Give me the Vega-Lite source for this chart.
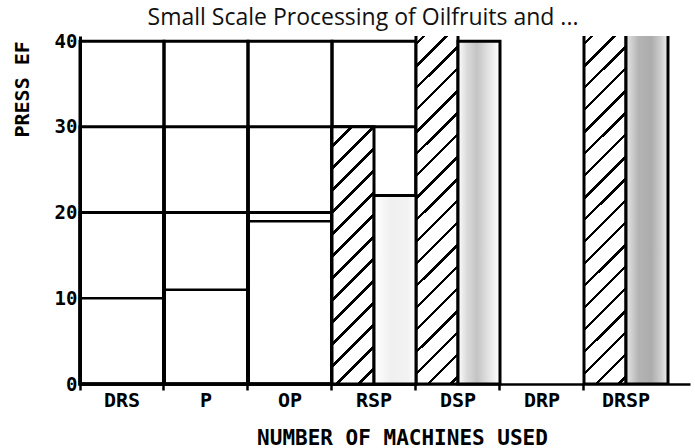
{
  "$schema": "https://vega.github.io/schema/vega-lite/v6.json",
  "width": 610,
  "height": 348,
  "autosize": {"type": "none"},
  "padding": {"left": 80, "top": 36, "right": 5, "bottom": 64},
  "background": "white",
  "title": {
    "text": "Small Scale Processing of Oilfruits and ...",
    "font": "Open Sans",
    "fontSize": 23,
    "fontWeight": "normal",
    "color": "#111111",
    "anchor": "middle",
    "frame": "group",
    "dx": -22,
    "offset": 2
  },
  "config": {"view": {"stroke": null}},
  "datasets": {
    "grid": [
      {"machine": "DRS", "value": 40}, {"machine": "DRS", "value": 30}, {"machine": "DRS", "value": 20},
      {"machine": "P", "value": 40}, {"machine": "P", "value": 30}, {"machine": "P", "value": 20},
      {"machine": "OP", "value": 40}, {"machine": "OP", "value": 30}, {"machine": "OP", "value": 20},
      {"machine": "RSP", "value": 40}, {"machine": "RSP", "value": 30}
    ],
    "press": [
      {"machine": "DRS", "type": "single", "value": 10},
      {"machine": "P", "type": "single", "value": 11},
      {"machine": "OP", "type": "single", "value": 19},
      {"machine": "RSP", "type": "hatched", "value": 30},
      {"machine": "RSP", "type": "stippled", "value": 22},
      {"machine": "DSP", "type": "hatched", "value": 42},
      {"machine": "DSP", "type": "stippled", "value": 40},
      {"machine": "DRSP", "type": "hatched", "value": 42},
      {"machine": "DRSP", "type": "stippled", "value": 42}
    ]
  },
  "encoding": {
    "x": {
      "field": "machine",
      "type": "nominal",
      "scale": {
        "domain": ["DRS", "P", "OP", "RSP", "DSP", "DRP", "DRSP"],
        "paddingInner": 0,
        "paddingOuter": 0.131,
        "align": 0
      },
      "axis": {
        "title": "NUMBER OF MACHINES USED",
        "bandPosition": 0,
        "labelAngle": 0,
        "labelFont": "DejaVu Sans Mono",
        "labelFontSize": 20,
        "labelFontWeight": "bold",
        "labelColor": "black",
        "labelPadding": 0,
        "tickSize": 6,
        "tickWidth": 2.5,
        "tickColor": "black",
        "domainColor": "black",
        "domainWidth": 2.5,
        "grid": false,
        "titleFont": "DejaVu Sans Mono",
        "titleFontSize": 21,
        "titleFontWeight": "bold",
        "titleColor": "black",
        "titleX": 322,
        "titleY": 60,
        "titleAlign": "center",
        "titleBaseline": "alphabetic"
      }
    },
    "y": {
      "field": "value",
      "type": "quantitative",
      "stack": null,
      "scale": {"domain": [0, 40.6], "nice": false, "zero": true},
      "axis": {
        "title": "PRESS EF",
        "values": [0, 10, 20, 30, 40],
        "grid": false,
        "ticks": false,
        "domainColor": "black",
        "domainWidth": 3,
        "labelFont": "DejaVu Sans Mono",
        "labelFontSize": 19,
        "labelFontWeight": "bold",
        "labelColor": "black",
        "labelPadding": 3,
        "titleFont": "DejaVu Sans Mono",
        "titleFontSize": 20,
        "titleFontWeight": "bold",
        "titleColor": "black",
        "titleX": -58,
        "titleY": 101,
        "titleAngle": 270,
        "titleAlign": "left",
        "titleBaseline": "middle"
      }
    }
  },
  "layer": [
    {
      "data": {"name": "grid"},
      "mark": {"type": "bar", "fill": "transparent", "stroke": "black", "strokeWidth": 3}
    },
    {
      "data": {"name": "press"},
      "transform": [{"filter": "datum.type === 'single'"}],
      "mark": {"type": "bar", "fill": "transparent", "stroke": "black", "strokeWidth": 2.5}
    },
    {
      "data": {"name": "press"},
      "transform": [{"filter": "datum.type === 'hatched' && datum.machine === 'RSP'"}],
      "mark": {
        "type": "bar",
        "stroke": "black",
        "strokeWidth": 3,
        "fill": {
          "gradient": "linear", "x1": 0, "y1": 0, "x2": 0.1906, "y2": 1.1668,
          "stops": [
            {"offset": 0, "color": "white"}, {"offset": 0.0586, "color": "white"}, {"offset": 0.0586, "color": "black"}, {"offset": 0.0714, "color": "black"},
            {"offset": 0.0714, "color": "white"}, {"offset": 0.13, "color": "white"}, {"offset": 0.13, "color": "black"}, {"offset": 0.1429, "color": "black"},
            {"offset": 0.1429, "color": "white"}, {"offset": 0.2014, "color": "white"}, {"offset": 0.2014, "color": "black"}, {"offset": 0.2143, "color": "black"},
            {"offset": 0.2143, "color": "white"}, {"offset": 0.2729, "color": "white"}, {"offset": 0.2729, "color": "black"}, {"offset": 0.2857, "color": "black"},
            {"offset": 0.2857, "color": "white"}, {"offset": 0.3443, "color": "white"}, {"offset": 0.3443, "color": "black"}, {"offset": 0.3571, "color": "black"},
            {"offset": 0.3571, "color": "white"}, {"offset": 0.4157, "color": "white"}, {"offset": 0.4157, "color": "black"}, {"offset": 0.4286, "color": "black"},
            {"offset": 0.4286, "color": "white"}, {"offset": 0.4871, "color": "white"}, {"offset": 0.4871, "color": "black"}, {"offset": 0.5, "color": "black"},
            {"offset": 0.5, "color": "white"}, {"offset": 0.5586, "color": "white"}, {"offset": 0.5586, "color": "black"}, {"offset": 0.5714, "color": "black"},
            {"offset": 0.5714, "color": "white"}, {"offset": 0.63, "color": "white"}, {"offset": 0.63, "color": "black"}, {"offset": 0.6429, "color": "black"},
            {"offset": 0.6429, "color": "white"}, {"offset": 0.7014, "color": "white"}, {"offset": 0.7014, "color": "black"}, {"offset": 0.7143, "color": "black"},
            {"offset": 0.7143, "color": "white"}, {"offset": 0.7729, "color": "white"}, {"offset": 0.7729, "color": "black"}, {"offset": 0.7857, "color": "black"},
            {"offset": 0.7857, "color": "white"}, {"offset": 0.8443, "color": "white"}, {"offset": 0.8443, "color": "black"}, {"offset": 0.8571, "color": "black"},
            {"offset": 0.8571, "color": "white"}, {"offset": 0.9157, "color": "white"}, {"offset": 0.9157, "color": "black"}, {"offset": 0.9286, "color": "black"},
            {"offset": 0.9286, "color": "white"}, {"offset": 0.9871, "color": "white"}, {"offset": 0.9871, "color": "black"}, {"offset": 1, "color": "black"}
          ]
        }
      },
      "encoding": {"xOffset": {"field": "type", "scale": {"domain": ["hatched", "stippled"], "paddingInner": 0, "paddingOuter": 0}}}
    },
    {
      "data": {"name": "press"},
      "transform": [{"filter": "datum.type === 'hatched' && datum.machine !== 'RSP'"}],
      "mark": {
        "type": "bar",
        "clip": true,
        "stroke": "black",
        "strokeWidth": 3,
        "fill": {
          "gradient": "linear", "x1": 0, "y1": 0, "x2": 0.1336, "y2": 1.1455,
          "stops": [
            {"offset": 0, "color": "white"}, {"offset": 0.0432, "color": "white"}, {"offset": 0.0432, "color": "black"}, {"offset": 0.0526, "color": "black"},
            {"offset": 0.0526, "color": "white"}, {"offset": 0.0958, "color": "white"}, {"offset": 0.0958, "color": "black"}, {"offset": 0.1053, "color": "black"},
            {"offset": 0.1053, "color": "white"}, {"offset": 0.1484, "color": "white"}, {"offset": 0.1484, "color": "black"}, {"offset": 0.1579, "color": "black"},
            {"offset": 0.1579, "color": "white"}, {"offset": 0.2011, "color": "white"}, {"offset": 0.2011, "color": "black"}, {"offset": 0.2105, "color": "black"},
            {"offset": 0.2105, "color": "white"}, {"offset": 0.2537, "color": "white"}, {"offset": 0.2537, "color": "black"}, {"offset": 0.2632, "color": "black"},
            {"offset": 0.2632, "color": "white"}, {"offset": 0.3063, "color": "white"}, {"offset": 0.3063, "color": "black"}, {"offset": 0.3158, "color": "black"},
            {"offset": 0.3158, "color": "white"}, {"offset": 0.3589, "color": "white"}, {"offset": 0.3589, "color": "black"}, {"offset": 0.3684, "color": "black"},
            {"offset": 0.3684, "color": "white"}, {"offset": 0.4116, "color": "white"}, {"offset": 0.4116, "color": "black"}, {"offset": 0.4211, "color": "black"},
            {"offset": 0.4211, "color": "white"}, {"offset": 0.4642, "color": "white"}, {"offset": 0.4642, "color": "black"}, {"offset": 0.4737, "color": "black"},
            {"offset": 0.4737, "color": "white"}, {"offset": 0.5168, "color": "white"}, {"offset": 0.5168, "color": "black"}, {"offset": 0.5263, "color": "black"},
            {"offset": 0.5263, "color": "white"}, {"offset": 0.5695, "color": "white"}, {"offset": 0.5695, "color": "black"}, {"offset": 0.5789, "color": "black"},
            {"offset": 0.5789, "color": "white"}, {"offset": 0.6221, "color": "white"}, {"offset": 0.6221, "color": "black"}, {"offset": 0.6316, "color": "black"},
            {"offset": 0.6316, "color": "white"}, {"offset": 0.6747, "color": "white"}, {"offset": 0.6747, "color": "black"}, {"offset": 0.6842, "color": "black"},
            {"offset": 0.6842, "color": "white"}, {"offset": 0.7274, "color": "white"}, {"offset": 0.7274, "color": "black"}, {"offset": 0.7368, "color": "black"},
            {"offset": 0.7368, "color": "white"}, {"offset": 0.78, "color": "white"}, {"offset": 0.78, "color": "black"}, {"offset": 0.7895, "color": "black"},
            {"offset": 0.7895, "color": "white"}, {"offset": 0.8326, "color": "white"}, {"offset": 0.8326, "color": "black"}, {"offset": 0.8421, "color": "black"},
            {"offset": 0.8421, "color": "white"}, {"offset": 0.8853, "color": "white"}, {"offset": 0.8853, "color": "black"}, {"offset": 0.8947, "color": "black"},
            {"offset": 0.8947, "color": "white"}, {"offset": 0.9379, "color": "white"}, {"offset": 0.9379, "color": "black"}, {"offset": 0.9474, "color": "black"},
            {"offset": 0.9474, "color": "white"}, {"offset": 0.9905, "color": "white"}, {"offset": 0.9905, "color": "black"}, {"offset": 1, "color": "black"}
          ]
        }
      },
      "encoding": {"xOffset": {"field": "type", "scale": {"domain": ["hatched", "stippled"], "paddingInner": 0, "paddingOuter": 0}}}
    },
    {
      "data": {"name": "press"},
      "transform": [{"filter": "datum.type === 'stippled' && datum.machine === 'RSP'"}],
      "mark": {
        "type": "bar",
        "stroke": "black",
        "strokeWidth": 3,
        "fill": {
          "gradient": "linear", "x1": 0, "y1": 0, "x2": 1, "y2": 0,
          "stops": [
            {"offset": 0, "color": "white"}, {"offset": 0.4, "color": "#f0f0f0"}, {"offset": 0.8, "color": "#f2f2f2"}, {"offset": 1, "color": "white"}
          ]
        }
      },
      "encoding": {"xOffset": {"field": "type", "scale": {"domain": ["hatched", "stippled"], "paddingInner": 0, "paddingOuter": 0}}}
    },
    {
      "data": {"name": "press"},
      "transform": [{"filter": "datum.type === 'stippled' && datum.machine === 'DSP'"}],
      "mark": {
        "type": "bar",
        "stroke": "black",
        "strokeWidth": 3,
        "fill": {
          "gradient": "linear", "x1": 0, "y1": 0, "x2": 1, "y2": 0,
          "stops": [
            {"offset": 0, "color": "white"}, {"offset": 0.2, "color": "#dcdcdc"}, {"offset": 0.45, "color": "#c4c4c4"}, {"offset": 0.7, "color": "#e0e0e0"}, {"offset": 1, "color": "white"}
          ]
        }
      },
      "encoding": {"xOffset": {"field": "type", "scale": {"domain": ["hatched", "stippled"], "paddingInner": 0, "paddingOuter": 0}}}
    },
    {
      "data": {"name": "press"},
      "transform": [{"filter": "datum.type === 'stippled' && datum.machine === 'DRSP'"}],
      "mark": {
        "type": "bar",
        "clip": true,
        "stroke": "black",
        "strokeWidth": 3,
        "fill": {
          "gradient": "linear", "x1": 0, "y1": 0, "x2": 1, "y2": 0,
          "stops": [
            {"offset": 0, "color": "#e6e6e6"}, {"offset": 0.3, "color": "#b4b4b4"}, {"offset": 0.6, "color": "#acacac"}, {"offset": 0.85, "color": "#d0d0d0"}, {"offset": 1, "color": "#f0f0f0"}
          ]
        }
      },
      "encoding": {"xOffset": {"field": "type", "scale": {"domain": ["hatched", "stippled"], "paddingInner": 0, "paddingOuter": 0}}}
    }
  ]
}
